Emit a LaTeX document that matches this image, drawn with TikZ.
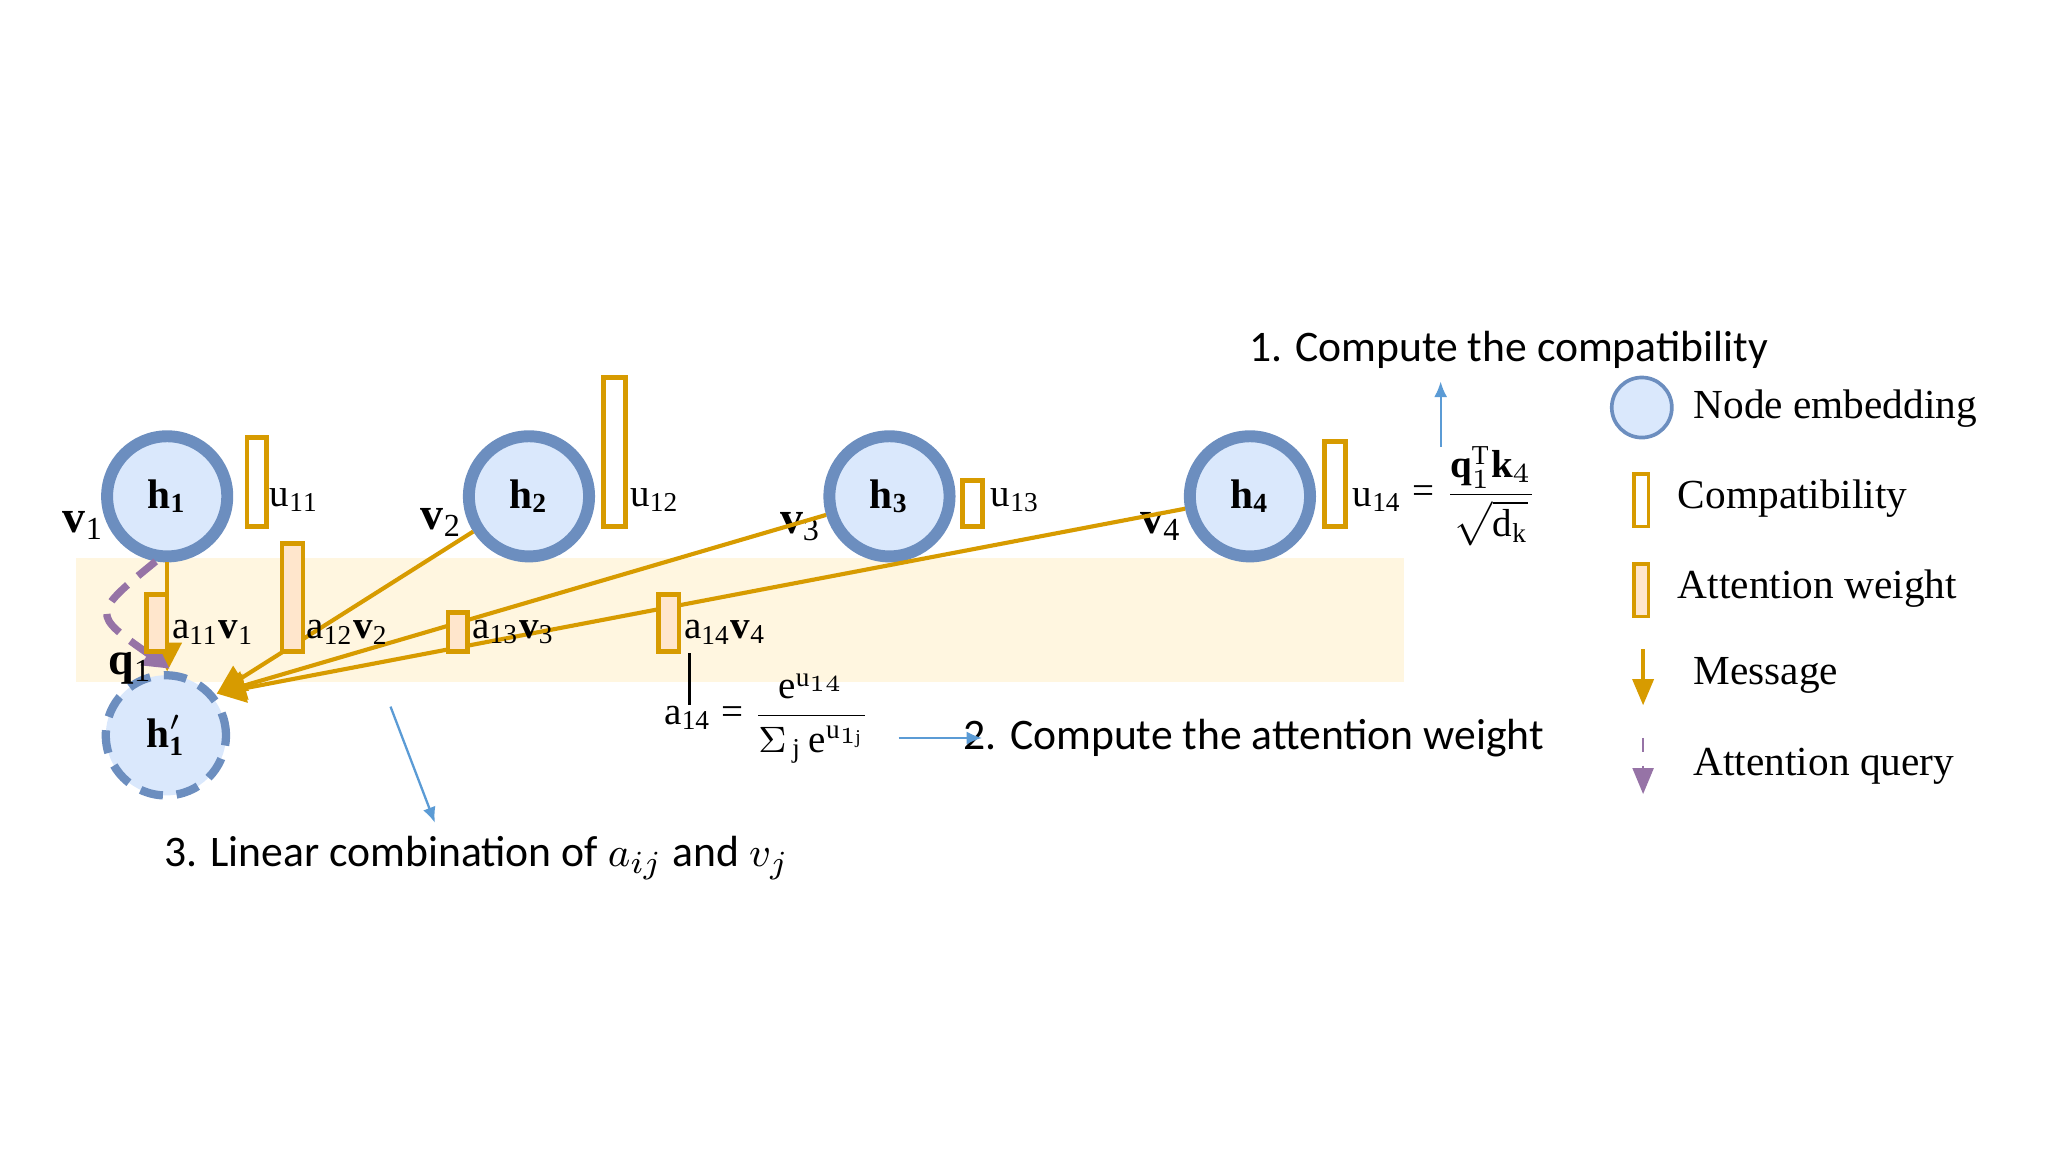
\documentclass[tikz,border=0pt]{standalone}
\usepackage{amsmath}
\usepackage{fontspec}
\setmainfont{Liberation Serif}
\newfontfamily\carl{Carlito}
\usetikzlibrary{arrows.meta}
\definecolor{nodefill}{HTML}{DAE8FC}
\definecolor{nodeline}{HTML}{6C8EBF}
\definecolor{orng}{HTML}{D79B00}
\definecolor{attfill}{HTML}{FFE6CC}
\definecolor{band}{HTML}{FFF6E0}
\definecolor{purp}{HTML}{9673A6}
\definecolor{blu}{HTML}{5B9BD5}
\tikzset{
  emb/.style={circle,draw=nodeline,line width=2.6pt,fill=nodefill,minimum size=9.2mm,inner sep=0pt,font=\fontsize{9}{10}\selectfont\bfseries},
  compbar/.style={draw=orng,line width=1pt,fill=white},
  attbar/.style={draw=orng,line width=1pt,fill=attfill},
  msg/.style={draw=orng,line width=0.9pt,-{Triangle[length=2.2mm,width=2.2mm]}},
  note/.style={draw=blu,line width=0.5pt,-{Latex[length=1.2mm,width=1mm]}},
  lab/.style={font=\fontsize{9}{10}\selectfont,inner sep=0pt},
  sml/.style={font=\fontsize{8.5}{10}\selectfont,inner sep=0pt},
  step1/.style={font=\carl\fontsize{9.5}{11}\selectfont,inner sep=0pt},
}
\begin{document}
\begin{tikzpicture}[x=0.1mm,y=-0.1mm]
\useasboundingbox (0,0) rectangle (1568,882);
\fill[band] (58,427) rectangle (1075,522);
% nodes
\node[emb] (h1) at (128,380) {h$_{\mathbf 1}$};
\node[emb] (h2) at (405,380) {h$_{\mathbf 2}$};
\node[emb] (h3) at (681,380) {h$_{\mathbf 3}$};
\node[emb] (h4) at (957,380) {h$_{\mathbf 4}$};
\node[emb,draw=nodeline,dashed,line width=1.8pt,dash pattern=on 5pt off 3pt] (hp) at (127,563) {h$'_{\mathbf 1}$};
\node[lab,font=\fontsize{10}{11}\selectfont\bfseries] (v1) at (64,402) {v$_{\mathrm 1}$};
\node[lab,font=\fontsize{10}{11}\selectfont\bfseries] (v2) at (338,400) {v$_{\mathrm 2}$};
\node[lab,font=\fontsize{10}{11}\selectfont\bfseries] (v3) at (613,403) {v$_{\mathrm 3}$};
\node[lab,font=\fontsize{10}{11}\selectfont\bfseries] (v4) at (889,403) {v$_{\mathrm 4}$};
% compatibility bars
\draw[compbar] (189,335) rectangle (204,403);
\draw[compbar] (462,289) rectangle (479,403);
\draw[compbar] (737,368) rectangle (752,403);
\draw[compbar] (1014,338) rectangle (1030,403);
\node[sml,anchor=west] (u11) at (206,383) {u$_{\mathrm{11}}$};
\node[sml,anchor=west] (u12) at (482,383) {u$_{\mathrm{12}}$};
\node[sml,anchor=west] (u13) at (758,383) {u$_{\mathrm{13}}$};
\node[sml,anchor=west] (u14) at (1035,383) {u$_{\mathrm{14}}$};
% target coordinates
\coordinate (t1) at (128,514);
\coordinate (t) at (166,531);
% messages
\draw[msg] (h1.south) -- (t1);
\draw[msg] (h2) -- (t);
\draw[msg] (h3) -- (t);
\draw[msg] (h4) -- (t);
% attention query
\draw[purp,line width=1.6pt,dash pattern=on 5pt off 3pt,-{Triangle[length=2mm,width=2mm]}] (h1.-100) .. controls (70,470) .. (130,512);
% attention bars
\draw[attbar] (112,455) rectangle (128,499);
\draw[attbar] (216,416) rectangle (232,499);
\draw[attbar] (343,469) rectangle (358,499);
\draw[attbar] (504,455) rectangle (520,499);
\node[sml,anchor=west] (a11) at (131,484) {a$_{\mathrm{11}}$\textbf{v}$_{\mathrm 1}$};
\node[sml,anchor=west] (a12) at (234,484) {a$_{\mathrm{12}}$\textbf{v}$_{\mathrm 2}$};
\node[sml,anchor=west] (a13) at (361,484) {a$_{\mathrm{13}}$\textbf{v}$_{\mathrm 3}$};
\node[sml,anchor=west] (a14) at (523,484) {a$_{\mathrm{14}}$\textbf{v}$_{\mathrm 4}$};
\node[lab,font=\fontsize{10}{11}\selectfont\bfseries] (q1) at (100,512) {q$_{\mathrm 1}$};
% formulas
\coordinate (f2top) at (528,500);
\node[sml,anchor=west] (f2) at (508,550) {a$_{\mathrm{14}}$ = $\dfrac{\mathrm{e}^{\mathrm{u}_{14}}}{\Sigma_{\,\mathrm j}\,\mathrm{e}^{\mathrm{u}_{1\mathrm j}}}$};
\draw[black,line width=0.7pt] (f2top) -- (528,540);
\node[sml,anchor=west] (f1) at (1036,380) {\phantom{u$_{\mathrm{14}}$} = $\dfrac{\mathbf{q}_1^{\mathrm T}\mathbf{k}_4}{\sqrt{\mathrm{d}_{\mathrm k}}}$};
% steps
\node[step1] (s1) at (1155,268) {1. Compute the compatibility};
\coordinate (s1a) at (1103,342);
\draw[note] (s1a) -- (1103,292);
\node[step1] (s2) at (960,565) {2. Compute the attention weight};
\coordinate (s2a) at (688,565);
\draw[note] (s2a) -- (752,565);
\node[step1] (s3) at (365,657) {3. Linear combination of $a_{ij}$ and $v_j$};
\coordinate (s3a) at (299,541);
\draw[note] (s3a) -- (333,630);
% legend
\node[circle,draw=nodeline,line width=0.8pt,fill=nodefill,minimum size=4.6mm,inner sep=0pt] (lc) at (1257,312) {};
\node[lab,anchor=west] (l1) at (1296,313) {Node embedding};
\draw[compbar,line width=0.8pt] (1251,363) rectangle (1262,403);
\node[lab,anchor=west] (l2) at (1284,382) {Compatibility};
\draw[attbar,line width=0.8pt] (1251,432) rectangle (1262,472);
\node[lab,anchor=west] (l3) at (1284,451) {Attention weight};
\coordinate (m1) at (1258,497);
\draw[msg,line width=0.8pt,-{Triangle[length=2mm,width=1.6mm]}] (m1) -- (1258,540);
\node[lab,anchor=west] (l4) at (1296,517) {Message};
\coordinate (m2) at (1258,565);
\draw[purp,line width=0.6pt,dashed,-{Triangle[length=2mm,width=1.6mm]}] (m2) -- (1258,608);
\node[lab,anchor=west] (l5) at (1296,587) {Attention query};
\end{tikzpicture}
\end{document}
